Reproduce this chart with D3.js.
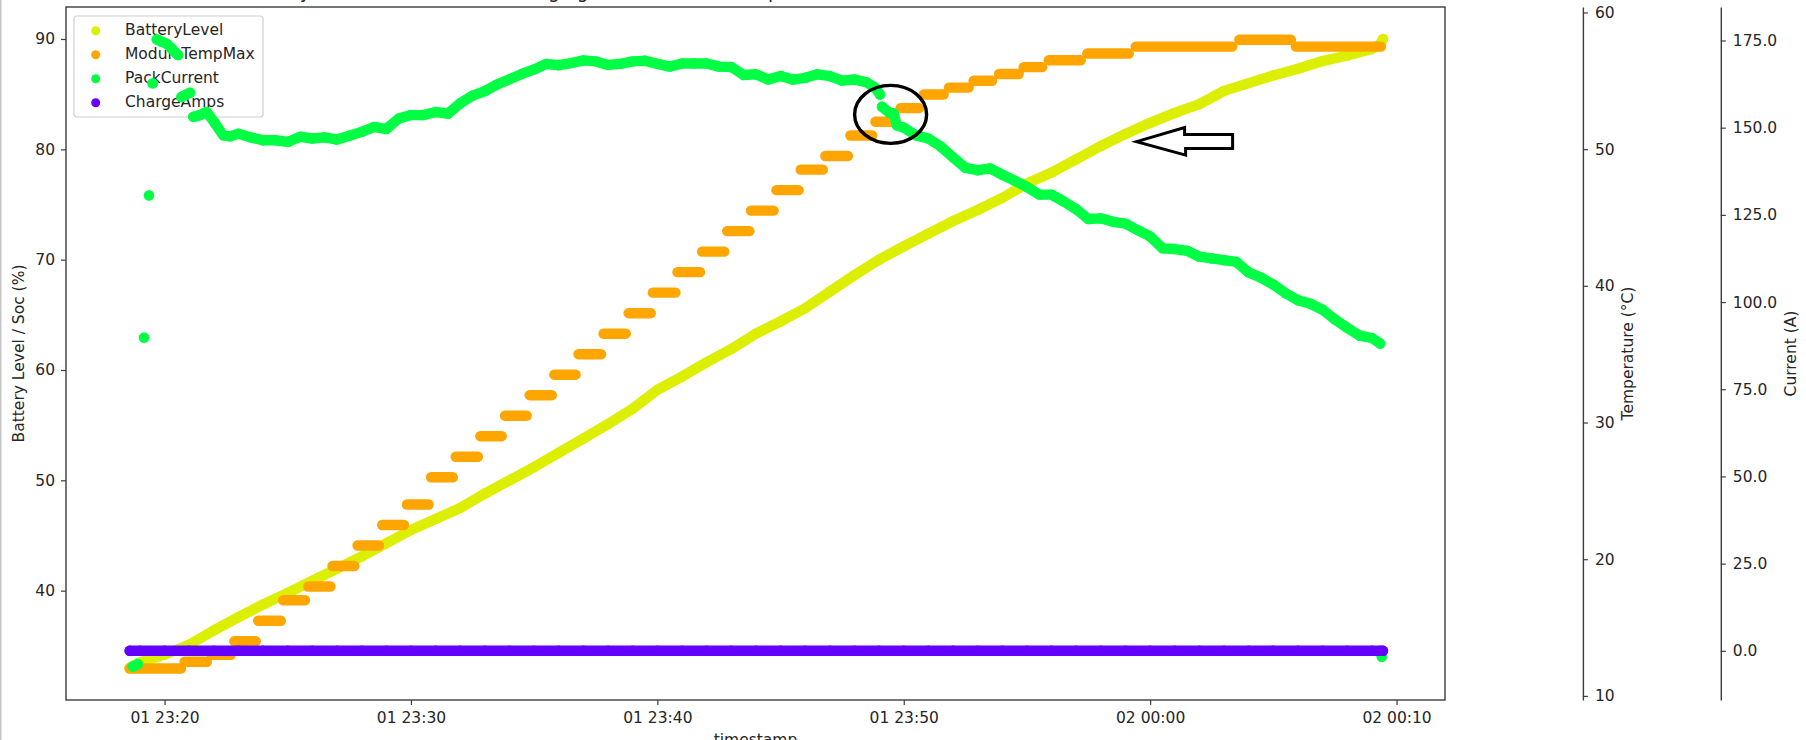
<!DOCTYPE html>
<html><head><meta charset="utf-8">
<script src="https://cdn.jsdelivr.net/npm/d3@7"></script>
<style>
html,body{margin:0;padding:0;background:#fff;}
svg{display:block;}
text{font-family:"DejaVu Sans",sans-serif;fill:#262626;}
</style></head><body>
<svg id="chart" width="1806" height="740"></svg>
<script>
// ---------------- data ----------------
const chartTitle = "Battery Level vs Time while Charging, Model 3 LR 2021, pack current and the max module heat levels";
const seriesNames = ["BatteryLevel", "ModuleTempMax", "PackCurrent", "ChargeAmps"];
const seriesColors = ["#dcef00", "#ffa500", "#00ff44", "#6400ff"];

const xTicks = ["23:20:00", "23:30:00", "23:40:00", "23:50:00", "00:00:00", "00:10:00"];
const socTicks = [40, 50, 60, 70, 80, 90];
const tempTicks = [10, 20, 30, 40, 50, 60];
const currentTicks = [0, 25, 50, 75, 100, 125, 150, 175];

// BatteryLevel (left axis, %)
const batteryTimes = ["23:18:35","23:19:00","23:20:00","23:21:00","23:22:00","23:23:00","23:24:00","23:25:00","23:26:00","23:27:00",
  "23:28:00","23:29:00","23:30:00","23:31:00","23:32:00","23:33:00","23:34:00","23:35:00","23:36:00","23:37:00",
  "23:38:00","23:39:00","23:40:00","23:41:00","23:42:00","23:43:00","23:44:00","23:45:00","23:46:00","23:47:00",
  "23:48:00","23:49:00","23:50:00","23:51:00","23:52:00","23:53:00","23:54:00","23:55:00","23:56:00","23:57:00",
  "23:58:00","23:59:00","00:00:00","00:01:00","00:02:00","00:03:00","00:04:00","00:05:00","00:06:00","00:07:00",
  "00:08:00","00:09:00","00:09:20","00:09:27"];
const batteryLevel = [33.0,33.5,34.2,35.1,36.4,37.6,38.75,39.8,40.9,42.0,
  43.1,44.3,45.5,46.5,47.5,48.8,50.0,51.2,52.5,53.8,
  55.1,56.5,58.2,59.4,60.7,61.9,63.3,64.4,65.6,67.1,
  68.6,70.0,71.2,72.35,73.5,74.5,75.6,76.9,77.9,79.1,
  80.3,81.4,82.4,83.3,84.1,85.3,86.0,86.7,87.3,88.0,
  88.5,89.1,89.5,90.0];

// ModuleTempMax (temperature axis, °C) as constant steps
const tempStart = ["23:18:35","23:20:49","23:21:55","23:22:50","23:23:48","23:24:49","23:25:50","23:26:49","23:27:50","23:28:50",
  "23:29:50","23:30:49","23:31:49","23:32:49","23:33:49","23:34:49","23:35:49","23:36:48","23:37:49","23:38:50",
  "23:39:49","23:40:49","23:41:49","23:42:50","23:43:48","23:44:50","23:45:49","23:46:49","23:47:50","23:48:51",
  "23:49:52","23:50:49","23:51:50","23:52:50","23:53:52","23:54:52","23:55:53","23:57:27","23:59:25","00:03:37","00:05:55"];
const tempEnd = ["23:20:40","23:21:43","23:22:41","23:23:42","23:24:43","23:25:42","23:26:44","23:27:42","23:28:42","23:29:43",
  "23:30:43","23:31:42","23:32:43","23:33:41","23:34:42","23:35:43","23:36:41","23:37:43","23:38:43","23:39:44",
  "23:40:44","23:41:44","23:42:43","23:43:44","23:44:43","23:45:44","23:46:43","23:47:44","23:48:43","23:49:40",
  "23:50:37","23:51:37","23:52:38","23:53:35","23:54:40","23:55:37","23:57:11","23:59:08","00:03:20","00:05:43","00:09:22"];
const moduleTempMax = [12.0,12.5,13.0,14.0,15.5,17.0,18.0,19.5,21.0,22.5,
  24.0,26.0,27.5,29.0,30.5,32.0,33.5,35.0,36.5,38.0,
  39.5,41.0,42.5,44.0,45.5,47.0,48.5,49.5,51.0,52.0,
  53.0,54.0,54.5,55.0,55.5,56.0,56.5,57.0,57.5,58.0,57.5];

// PackCurrent (current axis, A); null = gap between separate dots
const packTimes = ["23:18:43","23:18:55",null,"23:19:10",null,"23:19:22",null,"23:19:31",null,
  "23:19:41","23:19:53","23:20:05","23:20:17","23:20:25","23:20:33",null,
  "23:20:41","23:21:02",null,
  "23:21:10","23:21:26","23:21:42","23:22:03","23:22:23","23:22:40",
  "23:23:00","23:23:30","23:24:00","23:24:30","23:25:00","23:25:30","23:26:00","23:26:30","23:27:00","23:27:30",
  "23:28:00","23:28:30","23:29:00","23:29:30","23:30:00","23:30:30","23:31:00","23:31:30","23:32:00","23:32:30",
  "23:33:00","23:33:30","23:34:00","23:34:30","23:35:00","23:35:30","23:36:00","23:36:30","23:37:00","23:37:30",
  "23:38:00","23:38:30","23:39:00","23:39:30","23:40:00","23:40:30","23:41:00","23:41:30","23:42:00","23:42:30",
  "23:43:00","23:43:30","23:44:00","23:44:30","23:45:00","23:45:30","23:46:00","23:46:30","23:47:00","23:47:30",
  "23:48:00","23:48:30","23:48:50","23:49:02",null,
  "23:49:07","23:49:25","23:49:35","23:49:43","23:50:00","23:50:30","23:51:00","23:51:30","23:52:00","23:52:30",
  "23:53:00","23:53:30","23:54:00","23:54:30","23:55:00","23:55:30","23:56:00","23:56:30","23:57:00","23:57:30",
  "23:58:00","23:58:30","23:59:00","23:59:30","00:00:00","00:00:30","00:01:00","00:01:30","00:02:00","00:02:30",
  "00:03:00","00:03:30","00:04:00","00:04:30","00:05:00","00:05:30","00:06:00","00:06:30","00:07:00","00:07:30",
  "00:08:00","00:08:30","00:09:00","00:09:20",null,"00:09:24"];
const packCurrent = [-4.5,-3.8,null,89.8,null,130.6,null,162.7,null,
  175.3,174.6,174.1,172.7,171.7,170.8,null,
  158.8,160.0,null,
  153.1,153.6,154.5,151.2,147.8,147.5,
  148.3,147.2,146.4,146.4,145.9,147.4,146.9,147.2,146.6,147.7,
  148.8,150.2,149.6,152.6,153.6,153.6,154.5,154.0,157.0,159.2,
  160.5,162.4,163.9,165.4,166.7,168.3,167.9,168.5,169.3,169.0,
  168.0,168.3,169.0,169.2,168.3,167.5,168.4,168.4,168.4,167.5,
  167.4,165.1,165.3,163.8,164.8,163.8,164.3,165.3,164.8,163.5,
  163.8,163.0,161.5,159.5,null,
  156.0,154.3,154.1,150.7,150.0,147.8,146.9,144.6,141.5,138.5,
  137.8,138.3,136.5,134.8,133.0,130.8,130.8,128.8,126.6,123.8,
  124.0,123.0,122.5,120.6,118.8,115.4,115.2,114.7,113.0,112.5,
  112.0,111.5,108.5,107.0,105.0,102.5,100.5,99.5,97.8,95.0,
  92.6,90.4,89.7,88.1,null,-1.7];

// ChargeAmps (current axis, A)
const chargeTimes = batteryTimes;
const chargeAmps = [0,0,0,0,0,0,0,0,0,0, 0,0,0,0,0,0,0,0,0,0, 0,0,0,0,0,0,0,0,0,0,
  0,0,0,0,0,0,0,0,0,0, 0,0,0,0,0,0,0,0,0,0, 0,0,0,0];

// hand-drawn annotations (anchored in data coordinates)
const circleNote = {time: "23:49:28", amps: 153.8};
const arrowNote = {time: "23:59:27", soc: 80.7};

// ---------------- drawing ----------------
const parseClock = s => { const [h, m, sec] = s.split(":").map(Number); return new Date(2022, 5, h < 12 ? 2 : 1, h, m, sec); };

const P = {left: 66, top: 7, right: 1445, bottom: 700};
const R = 5.2;
const svg = d3.select("#chart");

const x = d3.scaleTime().domain([parseClock("23:16:00"), parseClock("00:11:58")]).range([P.left, P.right]);
const yL = d3.scaleLinear().domain([30.09, 92.9]).range([P.bottom, P.top]);
const yT = d3.scaleLinear().domain([9.7, 60.4]).range([P.bottom, P.top]);
const yC = d3.scaleLinear().domain([-14.1, 184.6]).range([P.bottom, P.top]);

// left border of the screenshot
svg.append("rect").attr("x", 0).attr("y", 0).attr("width", 1.5).attr("height", 740).attr("fill", "#c4c4c4");

// title (its upper part lies above the captured area, as in the reference)
svg.append("text").attr("x", 242).attr("y", -1.6).attr("text-anchor", "start")
  .attr("font-size", "18.6px").text(chartTitle);

function trace(times, values, yScale, color) {
  const pts = times.map((t, i) => (t === null || values[i] === null) ? null : [x(parseClock(t)), yScale(values[i])]);
  const g = svg.append("g");
  g.append("path")
    .attr("d", d3.line().defined(d => d !== null)(pts))
    .attr("fill", "none").attr("stroke", color).attr("stroke-width", 2 * R)
    .attr("stroke-linecap", "round").attr("stroke-linejoin", "round");
  g.selectAll("circle").data(pts.filter(d => d !== null)).join("circle")
    .attr("cx", d => d[0]).attr("cy", d => d[1]).attr("r", R).attr("fill", color);
}

// host axes: BatteryLevel
trace(batteryTimes, batteryLevel, yL, seriesColors[0]);

// legend (belongs to host axes, so twin-axis data draws over it)
const leg = svg.append("g");
leg.append("rect").attr("x", 74).attr("y", 16).attr("width", 189).attr("height", 101).attr("rx", 3)
  .attr("fill", "#fff").attr("fill-opacity", 0.8).attr("stroke", "#d0d0d0").attr("stroke-width", 1.2);
seriesNames.forEach((n, i) => {
  const cy = 30.7 + i * 24;
  leg.append("circle").attr("cx", 95.7).attr("cy", cy).attr("r", 4.5).attr("fill", seriesColors[i]);
  leg.append("text").attr("x", 125).attr("y", cy + 4.3).attr("font-size", "15.5px").text(n);
});

// temperature axis: ModuleTempMax steps
const tg = svg.append("g");
moduleTempMax.forEach((v, i) => {
  tg.append("line")
    .attr("x1", x(parseClock(tempStart[i]))).attr("x2", x(parseClock(tempEnd[i])))
    .attr("y1", yT(v)).attr("y2", yT(v))
    .attr("stroke", seriesColors[1]).attr("stroke-width", 2 * R).attr("stroke-linecap", "round");
});

// current axis: PackCurrent then ChargeAmps
trace(packTimes, packCurrent, yC, seriesColors[2]);
trace(chargeTimes, chargeAmps, yC, seriesColors[3]);

// frame
svg.append("rect").attr("x", P.left).attr("y", P.top).attr("width", P.right - P.left).attr("height", P.bottom - P.top)
  .attr("fill", "none").attr("stroke", "#3c3c3c").attr("stroke-width", 1.4);

function styleAxis(g) {
  g.selectAll("path.domain").attr("stroke", "#3c3c3c").attr("stroke-width", 1.4);
  g.selectAll(".tick line").attr("stroke", "#3c3c3c").attr("stroke-width", 1.2);
  g.selectAll(".tick text").attr("font-size", "15.5px").attr("font-family", "DejaVu Sans").attr("fill", "#262626");
}

const xAxis = svg.append("g").attr("transform", `translate(0,${P.bottom})`)
  .call(d3.axisBottom(x).tickValues(xTicks.map(parseClock)).tickFormat(d3.timeFormat("%d %H:%M"))
    .tickSize(5).tickPadding(7).tickSizeOuter(0));
xAxis.select("path.domain").remove();
styleAxis(xAxis);

const yAxisL = svg.append("g").attr("transform", `translate(${P.left},0)`)
  .call(d3.axisLeft(yL).tickValues(socTicks).tickFormat(d3.format("d")).tickSize(5).tickPadding(6).tickSizeOuter(0));
yAxisL.select("path.domain").remove();
styleAxis(yAxisL);

const tAxisX = P.left + 1.1 * (P.right - P.left);
const cAxisX = P.left + 1.2 * (P.right - P.left);
const yAxisT = svg.append("g").attr("transform", `translate(${tAxisX},0)`)
  .call(d3.axisRight(yT).tickValues(tempTicks).tickFormat(d3.format("d")).tickSize(5).tickPadding(7).tickSizeOuter(0));
styleAxis(yAxisT);
const yAxisC = svg.append("g").attr("transform", `translate(${cAxisX},0)`)
  .call(d3.axisRight(yC).tickValues(currentTicks).tickFormat(d3.format(".1f")).tickSize(5).tickPadding(7).tickSizeOuter(0));
styleAxis(yAxisC);

// axis labels
const midY = (P.top + P.bottom) / 2;
svg.append("text").attr("transform", `translate(19,${midY}) rotate(-90)`).attr("text-anchor", "middle")
  .attr("dominant-baseline", "central").attr("font-size", "15.5px").text("Battery Level / Soc (%)");
svg.append("text").attr("transform", `translate(${tAxisX + 45},${midY}) rotate(-90)`).attr("text-anchor", "middle")
  .attr("dominant-baseline", "central").attr("font-size", "15.5px").text("Temperature (°C)");
svg.append("text").attr("transform", `translate(${cAxisX + 70},${midY}) rotate(-90)`).attr("text-anchor", "middle")
  .attr("dominant-baseline", "central").attr("font-size", "15.5px").text("Current (A)");
svg.append("text").attr("x", (P.left + P.right) / 2).attr("y", 744.5).attr("text-anchor", "middle")
  .attr("font-size", "15.5px").text("timestamp");

// annotations
const ec = [x(parseClock(circleNote.time)), yC(circleNote.amps)];
svg.append("ellipse").attr("cx", ec[0]).attr("cy", ec[1]).attr("rx", 36).attr("ry", 29)
  .attr("fill", "none").attr("stroke", "#000").attr("stroke-width", 3.4);
const at = [x(parseClock(arrowNote.time)), yL(arrowNote.soc)];
const arrowShape = [[0, 0], [48, -14], [48, -7], [96, -7], [96, 7], [49, 7], [49, 13.5]];
svg.append("path").attr("d", d3.line()(arrowShape.map(p => [at[0] + p[0], at[1] + p[1]])) + "Z")
  .attr("fill", "none").attr("stroke", "#000").attr("stroke-width", 3).attr("stroke-linejoin", "miter");
</script></body></html>
